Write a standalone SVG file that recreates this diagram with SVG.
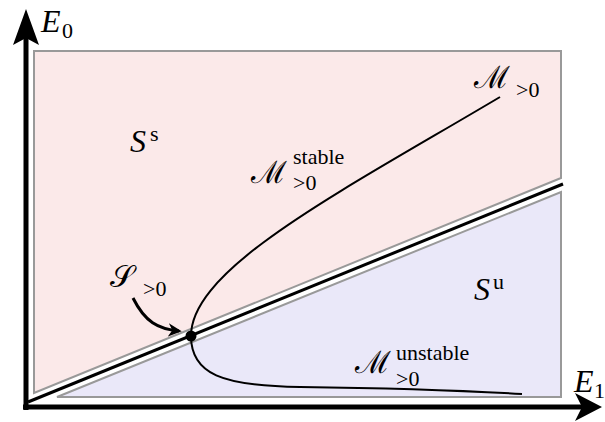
<svg xmlns="http://www.w3.org/2000/svg" width="605" height="422" viewBox="0 0 605 422">
<defs>
<style>
.t{font-family:"Liberation Serif","DejaVu Serif",serif;fill:#000}
.m{font-size:32px;font-style:italic}
.s{font-size:22px}
.cal{font-family:"DejaVu Serif","Liberation Serif",serif;font-size:31px}
.region{stroke:#999;stroke-width:2}
.curve{fill:none;stroke:#000;stroke-width:2}
</style>
<marker id="ah" viewBox="0 0 10 10" refX="8" refY="5" markerWidth="4.5" markerHeight="4.5" orient="auto" markerUnits="strokeWidth">
<path d="M0,0 L10,5 L0,10 L3,5 Z" fill="#000"/>
</marker>
</defs>
<rect width="605" height="422" fill="#fff"/>
<g id="region-stable">
<polygon class="region" points="34,51 561,51 561,178 34,393" fill="#fbe9e9"/>
</g>
<g id="region-unstable">
<polygon class="region" points="57,397 561,192 561,397" fill="#eae8f9"/>
</g>
<g id="connectors">
<line x1="28" y1="402" x2="563" y2="184" stroke="#000" stroke-width="3"/>
<path class="curve" d="M191,336 C191,268 340,192 500,97"/>
<path class="curve" d="M191,336 C191,374 222,386 300,387 C380,388 470,391 522,394"/>
<path d="M133,298 C145,322 158,329 179,331" fill="none" stroke="#000" stroke-width="3" marker-end="url(#ah)"/>
</g>
<g id="axes">
<line x1="26" y1="410" x2="26" y2="38" stroke="#000" stroke-width="5"/>
<polygon points="26,9 39,45 26,38 13,45" fill="#000"/>
<line x1="23" y1="407" x2="582" y2="407" stroke="#000" stroke-width="5"/>
<polygon points="602,407 575,393 582,407 575,421" fill="#000"/>
</g>
<g id="point">
<circle cx="191" cy="336" r="5.5" fill="#000"/>
</g>
<g id="labels">
<text class="t m" x="41" y="32">E</text><text class="t s" x="62" y="38">0</text>
<text class="t m" x="574" y="392">E</text><text class="t s" x="594" y="398">1</text>
<text class="t m" x="130" y="152">S</text><text class="t s" x="150" y="141">s</text>
<text class="t m" x="474" y="300">S</text><text class="t s" x="493" y="289">u</text>
<text class="t cal" x="474" y="88">ℳ</text><text class="t s" x="516" y="97">&gt;0</text>
<text class="t cal" x="251" y="183">ℳ</text><text class="t s" x="293" y="164">stable</text><text class="t s" x="293" y="190">&gt;0</text>
<text class="t cal" x="355" y="373">ℳ</text><text class="t s" x="396" y="360">unstable</text><text class="t s" x="396" y="386">&gt;0</text>
<text class="t cal" x="110" y="287">𝒮</text><text class="t s" x="143" y="296">&gt;0</text>
</g>
</svg>
